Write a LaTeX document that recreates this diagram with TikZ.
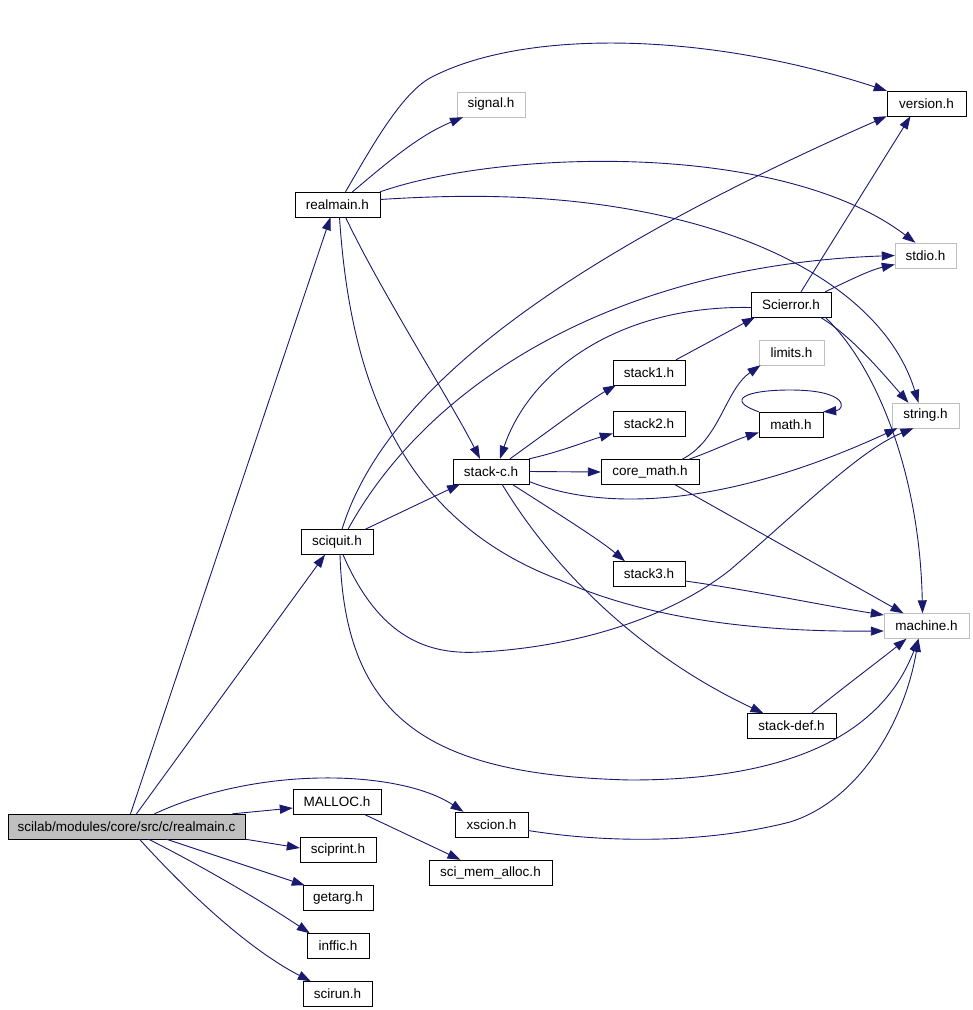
\documentclass[tikz,border=0pt]{standalone}
\usepackage{fontspec}
\setmainfont{Liberation Sans}
\usetikzlibrary{arrows.meta}
\definecolor{edgeblue}{HTML}{191970}
\definecolor{litegray}{HTML}{BFBFBF}
\newcommand{\hfont}{\fontsize{13.5}{15}\selectfont}
\tikzset{
  file/.style={draw=black, rectangle, inner sep=0pt, minimum height=25, font=\hfont},
  sysfile/.style={file, draw=litegray},
  mainfile/.style={file, fill=litegray},
  dep/.style={draw=edgeblue, line width=0.9, -{Triangle[length=13,width=9]}}
}
\begin{document}
\begin{tikzpicture}[x=1pt, y=-1pt]
  \useasboundingbox (0,0) rectangle (973,1010);
  \node[mainfile, minimum width=237] (realmainc) at (126.5,826.5) {scilab/modules/core/src/c/realmain.c};
  \node[file, minimum width=85] (realmainH) at (337.5,204.5) {realmain.h};
  \node[sysfile, minimum width=68] (signalH) at (491,104.5) {signal.h};
  \node[file, minimum width=79] (versionH) at (926.5,103.5) {version.h};
  \node[sysfile, minimum width=61] (stdioH) at (925.5,255.5) {stdio.h};
  \node[file, minimum width=80] (scierrorH) at (791,304.5) {Scierror.h};
  \node[sysfile, minimum width=65] (limitsH) at (791.5,352.5) {limits.h};
  \node[file, minimum width=72] (stack1H) at (649,372.5) {stack1.h};
  \node[file, minimum width=72] (stack2H) at (649,423.5) {stack2.h};
  \node[file, minimum width=64] (mathH) at (791,424.5) {math.h};
  \node[sysfile, minimum width=67] (stringH) at (925.5,415.5) {string.h};
  \node[file, minimum width=76] (stackcH) at (491,471.5) {stack-c.h};
  \node[file, minimum width=98] (coremathH) at (650,472) {core\_math.h};
  \node[file, minimum width=72] (sciquitH) at (337,542) {sciquit.h};
  \node[file, minimum width=72] (stack3H) at (649,574) {stack3.h};
  \node[sysfile, minimum width=85] (machineH) at (926.5,626) {machine.h};
  \node[file, minimum width=89] (stackdefH) at (791.5,726) {stack-def.h};
  \node[file, minimum width=88] (mallocH) at (337,802) {MALLOC.h};
  \node[file, minimum width=73] (xscionH) at (491.5,824.5) {xscion.h};
  \node[file, minimum width=76] (sciprintH) at (338,850) {sciprint.h};
  \node[file, minimum width=123] (scimemallocH) at (490.5,872.5) {sci\_mem\_alloc.h};
  \node[file, minimum width=70] (getargH) at (338,898) {getarg.h};
  \node[file, minimum width=62] (infficH) at (338,946) {inffic.h};
  \node[file, minimum width=69] (scirunH) at (337.5,994) {scirun.h};

  \draw[dep] ([xshift=4]realmainc.north) -- ([xshift=-7]realmainH.south);
  \draw[dep] ([xshift=10]realmainc.north) -- ([xshift=-12]sciquitH.south);
  \draw[dep] ([xshift=106]realmainc.north) -- ([yshift=-6]mallocH.west);
  \draw[dep] ([xshift=28]realmainc.north) .. controls (260,765) and (400,770) .. ([xshift=-28]xscionH.north);
  \draw[dep] (realmainc.south east) -- ([yshift=2]sciprintH.west);
  \draw[dep] ([xshift=40]realmainc.south) -- ([xshift=2]getargH.north west);
  \draw[dep] ([xshift=22]realmainc.south) .. controls (200,865) and (260,900) .. ([xshift=3]infficH.north west);
  \draw[dep] ([xshift=13]realmainc.south) .. controls (190,895) and (250,950) .. ([xshift=8]scirunH.north west);
  \draw[dep] ([xshift=28]mallocH.south) -- ([xshift=-30]scimemallocH.north);
  \draw[dep] ([yshift=-6]xscionH.east) .. controls (600,842) and (700,845) .. (790,822) .. controls (860,800) and (905,720) .. ([xshift=-8]machineH.south);

  \draw[dep] ([xshift=8]realmainH.north) .. controls (370,150) and (400,95) .. (430,78) .. controls (520,30) and (700,30) .. (versionH.north west);
  \draw[dep] ([xshift=15]realmainH.north) .. controls (390,160) and (420,135) .. ([xshift=-28]signalH.south);
  \draw[dep] (realmainH.north east) .. controls (500,150) and (780,140) .. ([xshift=-10]stdioH.north);
  \draw[dep] ([yshift=5]realmainH.east) .. controls (480,193) and (580,195) .. (680,220) .. controls (800,250) and (890,310) .. ([xshift=-7]stringH.north);
  \draw[dep] ([xshift=8]realmainH.south) .. controls (380,290) and (450,400) .. ([xshift=-11]stackcH.north);
  \draw[dep] ([xshift=2]realmainH.south) .. controls (350,380) and (400,520) .. (560,580) .. controls (650,620) and (760,632) .. ([yshift=-5]machineH.west);

  \draw[dep] ([xshift=5]sciquitH.north) .. controls (385,390) and (560,260) .. (versionH.south west);
  \draw[dep] ([xshift=11]sciquitH.north) .. controls (430,380) and (620,265) .. (stdioH.west);
  \draw[dep] ([xshift=-8]sciquitH.north east) -- ([xshift=-31]stackcH.south);
  \draw[dep] ([xshift=6]sciquitH.south) .. controls (380,640) and (430,655) .. (480,652) .. controls (560,648) and (660,625) .. (730,570) .. controls (800,510) and (860,450) .. ([xshift=-12]stringH.south);
  \draw[dep] ([xshift=3]sciquitH.south) .. controls (345,720) and (430,775) .. (630,780) .. controls (780,780) and (880,740) .. ([xshift=-8]machineH.south);

  \draw[dep] ([xshift=19]stackcH.north) .. controls (550,430) and (590,400) .. ([xshift=-33]stack1H.south);
  \draw[dep] (stackcH.north east) .. controls (560,452) and (590,440) .. ([yshift=-10]stack2H.west);
  \draw[dep] (stackcH.east) -- (coremathH.west);
  \draw[dep] ([yshift=-10]stackcH.east) .. controls (600,510) and (720,510) .. ([xshift=-28]stringH.south);
  \draw[dep] ([xshift=21]stackcH.south) .. controls (560,515) and (600,540) .. ([xshift=-24]stack3H.north);
  \draw[dep] ([xshift=11]stackcH.south) .. controls (560,580) and (650,660) .. ([xshift=-28]stackdefH.north);

  \draw[dep] ([yshift=-3]scierrorH.west) .. controls (620,305) and (530,370) .. ([xshift=9]stackcH.north);
  \draw[dep] ([xshift=27]stack1H.north) -- ([xshift=-36]scierrorH.south);
  \draw[dep] ([xshift=10]scierrorH.north) -- ([xshift=-16]versionH.south);
  \draw[dep] ([xshift=-6]scierrorH.north east) .. controls (850,280) and (870,270) .. ([yshift=-9]stdioH.west);
  \draw[dep] ([xshift=-11]scierrorH.south east) .. controls (850,335) and (880,370) .. ([xshift=-17]stringH.north);
  \draw[dep] ([xshift=-6]scierrorH.south east) .. controls (880,370) and (920,480) .. ([xshift=-4]machineH.north);

  \draw[dep] ([xshift=32]coremathH.north) .. controls (720,440) and (725,390) .. ([xshift=-31]limitsH.south);
  \draw[dep] ([xshift=39]coremathH.north) .. controls (715,450) and (735,440) .. ([yshift=-8]mathH.west);
  \draw[dep] (mathH.north west) .. controls (725,400) and (745,390) .. (790,390) .. controls (850,390) and (845,410) .. (mathH.north east);
  \draw[dep] ([xshift=25]coremathH.south) -- ([xshift=-23]machineH.north);
  \draw[dep] ([yshift=-7]stack3H.east) .. controls (750,590) and (820,605) .. ([yshift=11]machineH.west);
  \draw[dep] ([xshift=20]stackdefH.north) .. controls (840,690) and (880,660) .. ([xshift=-20]machineH.south);
\end{tikzpicture}
\end{document}
